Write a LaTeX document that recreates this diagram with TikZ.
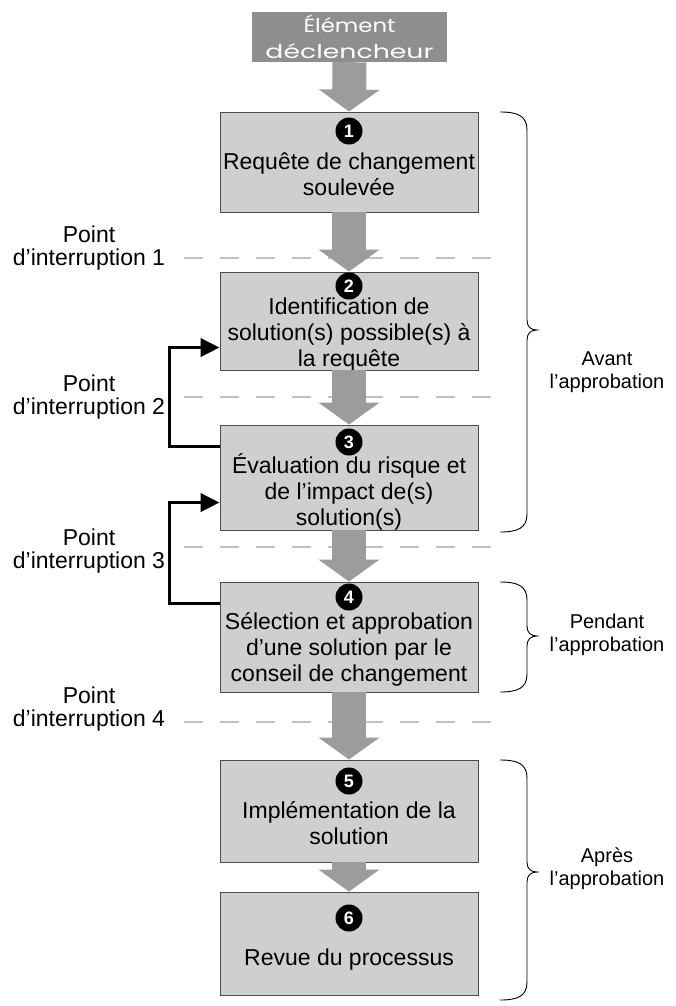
\documentclass[tikz,border=0pt]{standalone}
\usepackage{graphicx}
\usepackage{fontspec}
\setmainfont{Liberation Sans}
\newfontfamily\geofont{Poppins}
\usetikzlibrary{arrows.meta,calc}
\definecolor{boxgray}{HTML}{CFCFCF}
\definecolor{headgray}{HTML}{8E8E8E}
\definecolor{arrowgray}{HTML}{9C9C9C}
\definecolor{cutgray}{HTML}{C2C2C2}

% right-hand curly brace: top y, bottom y, tip y
\newcommand\sidebrace[3]{%
  \draw[bracestyle] (500,#1) .. controls (518,#1) and (527,{#1+4}) .. (527,{#1+18})
    -- (527,{#3-10}) .. controls (527,{#3-3}) and (531,#3) .. (537,#3)
    .. controls (531,#3) and (527,{#3+3}) .. (527,{#3+10})
    -- (527,{#2-18}) .. controls (527,{#2-4}) and (518,#2) .. (500,#2);}
% wide set line for the trigger box
\newcommand\wideline[2]{\resizebox{#1}{\height}{#2}}

\begin{document}
\begin{tikzpicture}[x=1pt,y=-1pt,
  stepbox/.style={draw=black!70, line width=0.9pt, fill=boxgray,
    minimum width=258pt, inner sep=0pt},
  steptext/.style={align=center, inner sep=0pt,
    font=\fontsize{23}{26}\selectfont},
  num/.style={circle, fill=black, text=white, inner sep=0pt,
    minimum size=27pt, font=\bfseries\fontsize{18}{18}\selectfont},
  headbox/.style={fill=headgray, minimum width=195pt, minimum height=50pt,
    inner sep=0pt, align=center, text=white,
    font=\geofont\fontsize{19}{26}\selectfont},
  bigarrow/.style={draw=arrowgray, line width=34pt,
    -{Triangle[length=22pt,width=60pt]}},
  loopback/.style={draw=black, line width=3.8pt,
    -{Triangle[length=19pt,width=18pt]}},
  cutline/.style={draw=cutgray, line width=1.8pt, dash pattern=on 19pt off 17pt},
  leftlabel/.style={align=center, inner sep=0pt,
    font=\fontsize{23}{23}\selectfont},
  rightlabel/.style={align=center, inner sep=0pt,
    font=\fontsize{20}{23}\selectfont},
  bracestyle/.style={draw=black, line width=0.9pt}
]
\useasboundingbox (0,0) rectangle (676,1006);

% trigger
\node[headbox] (start) at (349.5,37) {\wideline{92pt}{Élément}\\\wideline{168pt}{déclencheur}};

% process steps
\node[stepbox, minimum height=100pt] (b1) at (349,162) {};
\node[stepbox, minimum height=98pt]  (b2) at (349,321) {};
\node[stepbox, minimum height=105pt] (b3) at (349,477.5) {};
\node[stepbox, minimum height=110pt] (b4) at (349,637) {};
\node[stepbox, minimum height=102pt] (b5) at (349,811) {};
\node[stepbox, minimum height=103pt] (b6) at (349,943.5) {};

\node[num] (n1) at (349,131) {1};
\node[num] (n2) at (349,286) {2};
\node[num] (n3) at (349,442) {3};
\node[num] (n4) at (349,597) {4};
\node[num] (n5) at (349,781) {5};
\node[num] (n6) at (349,918) {6};

\node[steptext] (t1) at (349,174) {Requête de changement\\soulevée};
\node[steptext] (t2) at (349,335) {Identification de\\solution(s) possible(s) à\\la requête};
\node[steptext] (t3) at (349,492) {Évaluation du risque et\\de l’impact de(s)\\solution(s)};
\node[steptext] (t4) at (349,649) {Sélection et approbation\\d’une solution par le\\conseil de changement};
\node[steptext] (t5) at (349,823) {Implémentation de la\\solution};
\node[steptext] (t6) at (349,960) {Revue du processus};

% interruption points
\draw[cutline] (184,258) -- (500,258);
\draw[cutline] (184,397) -- (500,397);
\draw[cutline] (184,547) -- (500,547);
\draw[cutline] (184,722) -- (500,722);

% flow arrows
\draw[bigarrow] (start.south) -- (b1.north);
\draw[bigarrow] (b1.south) -- (b2.north);
\draw[bigarrow] (b2.south) -- (b3.north);
\draw[bigarrow] (b3.south) -- (b4.north);
\draw[bigarrow] (b4.south) -- (b5.north);
\draw[bigarrow] (b5.south) -- (b6.north);

% loop-backs
\draw[loopback] ($(b3.north west)+(0,22)$) -- ++(-50,0) |- ($(b2.north west)+(0,76)$);
\draw[loopback] ($(b4.north west)+(0,22)$) -- ++(-50,0) |- ($(b3.north west)+(0,78)$);

% left labels
\node[leftlabel] (p1) at (89,248) {Point\\d’interruption 1};
\node[leftlabel] (p2) at (89,397) {Point\\d’interruption 2};
\node[leftlabel] (p3) at (89,551) {Point\\d’interruption 3};
\node[leftlabel] (p4) at (89,709) {Point\\d’interruption 4};

% phases
\sidebrace{112}{532}{330}
\sidebrace{582}{692}{636}
\sidebrace{760}{1000}{872}
\node[rightlabel] (ph1) at (607,372) {Avant\\l’approbation};
\node[rightlabel] (ph2) at (607,635) {Pendant\\l’approbation};
\node[rightlabel] (ph3) at (607,869) {Après\\l’approbation};
\end{tikzpicture}
\end{document}
